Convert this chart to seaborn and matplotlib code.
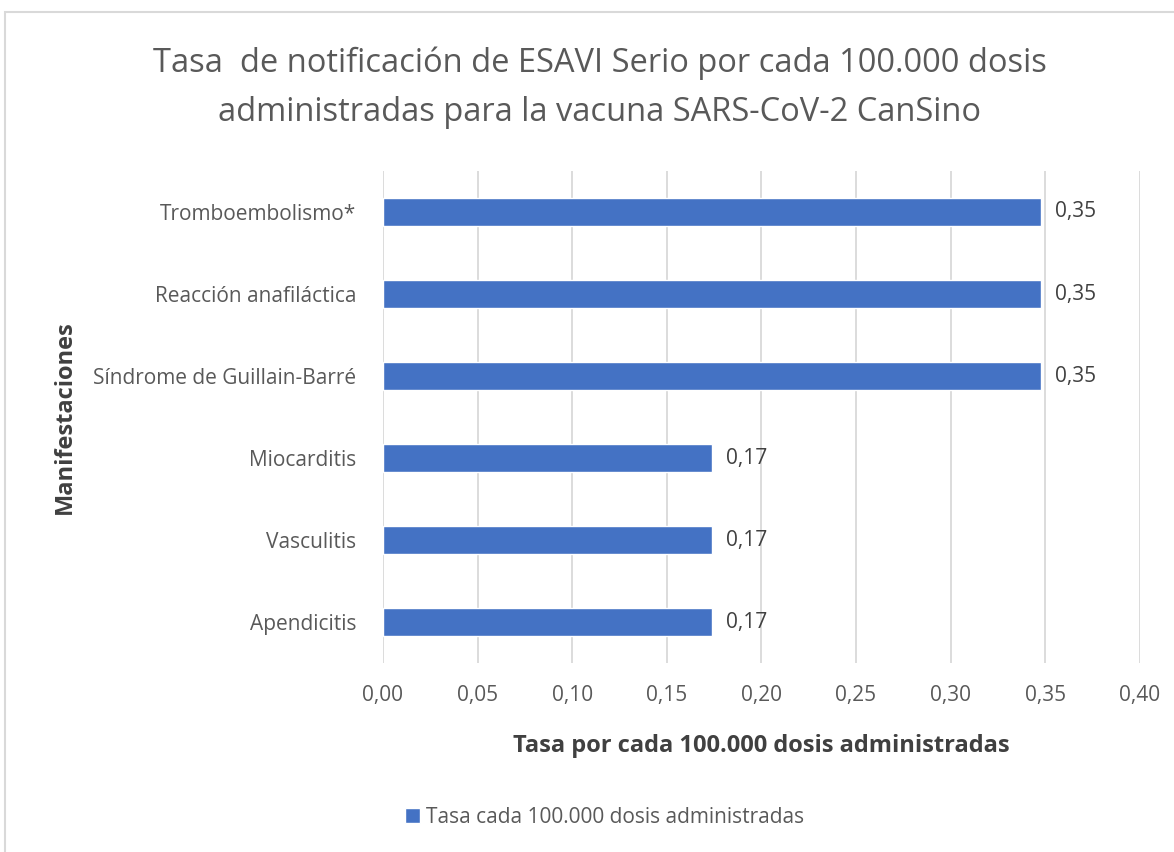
import pandas as pd
import seaborn as sns
import matplotlib.pyplot as plt
from matplotlib.patches import Rectangle

# data
categorias = ['Tromboembolismo*', 'Reacción anafiláctica', 'Síndrome de Guillain-Barré',
              'Miocarditis', 'Vasculitis', 'Apendicitis']
tasas = [0.348, 0.348, 0.348, 0.174, 0.174, 0.174]
etiquetas = ['0,35', '0,35', '0,35', '0,17', '0,17', '0,17']
xticks = [0.0, 0.05, 0.10, 0.15, 0.20, 0.25, 0.30, 0.35, 0.40]
xtick_labels = ['0,00', '0,05', '0,10', '0,15', '0,20', '0,25', '0,30', '0,35', '0,40']
serie = 'Tasa cada 100.000 dosis administradas'

df = pd.DataFrame({'Manifestaciones': categorias, 'Tasa': tasas})

sns.set_style('white')
plt.rcParams['font.family'] = ['Open Sans', 'DejaVu Sans']

fig = plt.figure(figsize=(11.74, 8.52), dpi=100)
ax = fig.add_axes([0.3262, 0.2218, 0.6447, 0.5775])

sns.barplot(data=df, x='Tasa', y='Manifestaciones', color='#4472C4', width=0.35,
            saturation=1, label=serie, ax=ax, legend=False)
if ax.get_legend() is not None:
    ax.get_legend().remove()

ax.set_xlim(0, 0.40)
ax.set_xticks(xticks)
ax.set_xticklabels(xtick_labels, fontsize=15, color='#595959')
ax.tick_params(axis='y', labelsize=15, labelcolor='#595959', length=0, pad=19)
ax.tick_params(axis='x', length=0, pad=16)
ax.grid(axis='x', color='#D9D9D9', linewidth=1.3)
ax.set_axisbelow(True)
for s in ax.spines.values():
    s.set_visible(False)

for cont in ax.containers:
    ax.bar_label(cont, labels=etiquetas, padding=10, fontsize=15, color='#404040')

ax.set_xlabel('Tasa por cada 100.000 dosis administradas', fontsize=17,
              fontweight='bold', color='#404040', labelpad=20)
ax.set_ylabel('Manifestaciones', fontsize=17, fontweight='bold', color='#404040')
ax.yaxis.set_label_coords(-0.405, 0.5)

fig.suptitle('Tasa  de notificación de ESAVI Serio por cada 100.000 dosis\n'
             'administradas para la vacuna SARS-CoV-2 CanSino',
             x=0.511, y=0.897, va='center', fontsize=23.5, color='#595959',
             linespacing=1.62)

h, l = ax.get_legend_handles_labels()
fig.legend(h[:1], [serie], loc='center', bbox_to_anchor=(0.515, 0.041), frameon=False,
           fontsize=15, handlelength=0.7, handleheight=0.7, handletextpad=0.3,
           labelcolor='#595959')

fig.patches.append(Rectangle((0.004, -0.01), 1.0, 0.996, transform=fig.transFigure,
                             fill=False, edgecolor='#D9D9D9', linewidth=1.5))

fig.savefig('out.png', dpi=100)
